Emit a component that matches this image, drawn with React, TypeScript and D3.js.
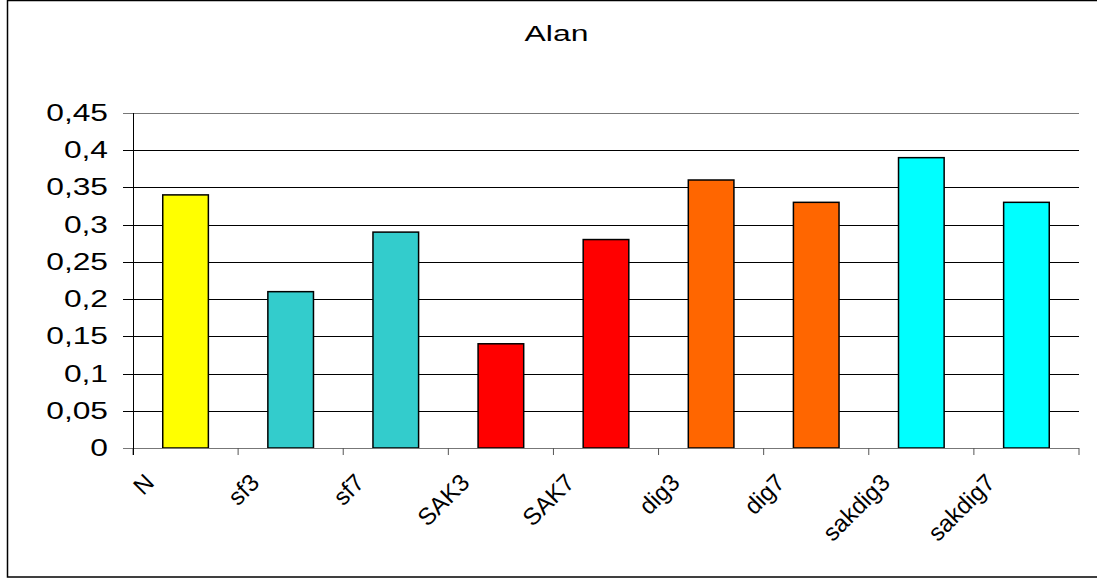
import React from "react";
import * as d3 from "d3";

const categories = ["N", "sf3", "sf7", "SAK3", "SAK7", "dig3", "dig7", "sakdig3", "sakdig7"];
const values = [0.34, 0.21, 0.29, 0.14, 0.28, 0.36, 0.33, 0.39, 0.33];
const colors = ["#FFFF00", "#33CCCC", "#33CCCC", "#FF0000", "#FF0000", "#FF6600", "#FF6600", "#00FFFF", "#00FFFF"];
const yTicks = [0, 0.05, 0.1, 0.15, 0.2, 0.25, 0.3, 0.35, 0.4, 0.45];
const title = "Alan";

export default function App() {
  const W = 1097, H = 579;
  const left = 133, right = 1079, top = 113, bottom = 448;
  const x = d3.scaleBand<string>().domain(categories).range([left, right]).paddingInner(0.566).paddingOuter(0.283);
  const band = (right - left) / categories.length;
  const y = d3.scaleLinear().domain([0, 0.45]).range([bottom, top]);
  const fmt = (v: number) => String(+v.toFixed(2)).replace(".", ",");
  const font = "'Liberation Sans', Arial, sans-serif";
  return (
    <svg width={W} height={H} style={{ position: "absolute", left: 0, top: 0 }}>
      <rect x={0} y={0} width={W} height={H} fill="#fff" />
      <rect x={7.5} y={0.5} width={1100} height={576.5} fill="none" stroke="#000" strokeWidth={1.5} />
      <text transform={`translate(556.5,41) scale(1.45,1)`} textAnchor="middle" fontFamily={font} fontSize={22}>{title}</text>
      {yTicks.map((t) => (
        <g key={t}>
          <line x1={123} x2={t === 0 ? left : right} y1={Math.round(y(t)) + 0.5} y2={Math.round(y(t)) + 0.5}
            stroke={t === 0.45 || t === 0 ? "#777" : "#000"} strokeWidth={1} />
          <text transform={`translate(108,${y(t) + 8}) scale(1.38,1)`} textAnchor="end" fontFamily={font} fontSize={23}>{fmt(t)}</text>
        </g>
      ))}
      {categories.map((c, i) => (
        <rect key={c} x={x(c)} y={y(values[i])} width={x.bandwidth()} height={bottom - y(values[i])}
          fill={colors[i]} stroke="#000" strokeWidth={1.5} />
      ))}
      <line x1={left} x2={right} y1={bottom + 0.5} y2={bottom + 0.5} stroke="#777" strokeWidth={1} />
      {d3.range(categories.length + 1).map((i) => (
        <line key={i} x1={left + i * band} x2={left + i * band} y1={bottom} y2={bottom + 7} stroke="#555" strokeWidth={1} />
      ))}
      <line x1={left + 0.5} x2={left + 0.5} y1={top} y2={bottom + 7} stroke="#000" strokeWidth={1} />
      {categories.map((c) => {
        const cx = (x(c) as number) + x.bandwidth() / 2;
        return (
          <text key={c} transform={`translate(${cx - 30},${484}) rotate(-45)`} textAnchor="end"
            fontFamily={font} fontSize={24}>{c}</text>
        );
      })}
    </svg>
  );
}
